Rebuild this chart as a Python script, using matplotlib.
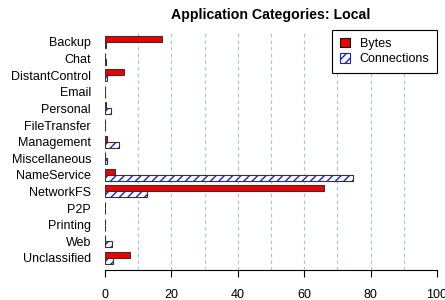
import matplotlib
matplotlib.use("Agg")
import matplotlib.pyplot as plt
import numpy as np
from matplotlib.patches import Patch

categories = ["Backup", "Chat", "DistantControl", "Email", "Personal", "FileTransfer",
              "Management", "Miscellaneous", "NameService", "NetworkFS", "P2P",
              "Printing", "Web", "Unclassified"]
bytes_vals = [17.2, 0.1, 5.7, 0.1, 0.2, 0.1, 0.5, 0.1, 2.9, 66.0, 0.1, 0.1, 0.1, 7.5]
conn_vals = [0.2, 0.4, 0.6, 0.1, 1.8, 0.1, 4.3, 0.7, 74.7, 12.7, 0.1, 0.1, 2.2, 2.5]
xticks = [0, 20, 40, 60, 80, 100]

plt.rcParams['font.family'] = ['Liberation Sans', 'DejaVu Sans']
plt.rcParams['hatch.linewidth'] = 1.0

fig = plt.figure(figsize=(4.45, 3.0), dpi=100)
ax = fig.add_axes([105/445, 0.1, (437-105)/445, 0.8])

y = np.arange(len(categories))
h = 0.36
edge = '#333333'
hatch_col = '#2020c8'
ax.barh(y - h/2, bytes_vals, height=h, color='#ee0000', edgecolor=edge, linewidth=0.8,
        zorder=3)
ax.barh(y + h/2, conn_vals, height=h, color='white', edgecolor=hatch_col, linewidth=0,
        hatch='////', zorder=3)
ax.barh(y + h/2, conn_vals, height=h, fill=False, edgecolor=edge, linewidth=0.8, zorder=4)

h1 = Patch(facecolor='#ee0000', edgecolor='black', linewidth=0.8, label='Bytes')
h2 = Patch(facecolor='white', edgecolor=hatch_col, hatch='////', linewidth=0.8,
           label='Connections')

ax.set_xlim(0, 100)
ax.set_ylim(13.73, -0.72)
ax.set_yticks(y)
ax.set_yticklabels(categories, fontsize=9)
ax.tick_params(axis='y', length=0, pad=10)
ax.set_xticks(xticks)
ax.set_xticklabels([str(t) for t in xticks], fontsize=9)
ax.tick_params(axis='x', length=5, pad=9, width=0.8)
for s in ['top', 'right', 'left']:
    ax.spines[s].set_visible(False)
ax.spines['bottom'].set_linewidth(0.8)
for gx in range(10, 100, 10):
    ax.axvline(gx, color='#a8bcd8', linestyle=(0, (3, 3)), linewidth=0.8, zorder=1)

ax.set_title("Application Categories: Local", fontsize=10.2, fontweight='bold', pad=8)
leg = ax.legend(handles=[h1, h2], loc='upper right', fontsize=9, frameon=True, fancybox=False,
                edgecolor='black', borderaxespad=0.0, handlelength=0.8, handleheight=0.8,
                handletextpad=0.8, borderpad=0.6, framealpha=1, labelspacing=0.3)
leg.get_frame().set_linewidth(0.8)

fig.savefig("out.png", dpi=100)
